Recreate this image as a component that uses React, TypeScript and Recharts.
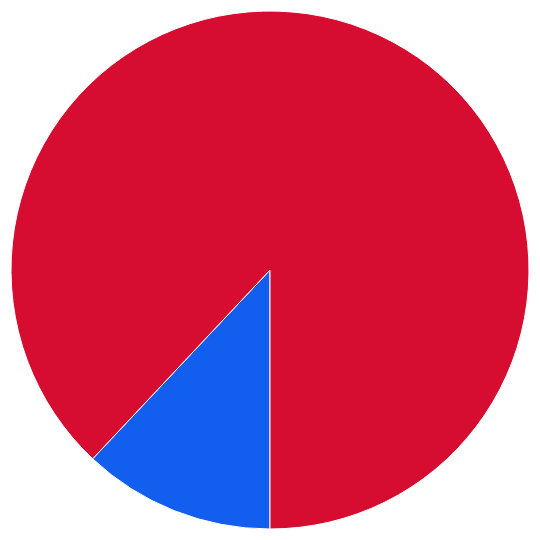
import React from "react";
import { PieChart, Pie, Cell } from "recharts";

const categories = ["Blue", "Red"];
const values = [12, 88];
const colors = ["#125EEE", "#D60C30"];

export default function App() {
  const data = categories.map((name, i) => ({ name, value: values[i] }));

  return (
    <div style={{ position: "absolute", left: 0, top: 0, width: 540, height: 540, background: "#fff" }}>
      <PieChart width={540} height={540} margin={{ top: 0, right: 0, bottom: 0, left: 0 }}>
        <Pie
          data={data}
          dataKey="value"
          nameKey="name"
          cx={270}
          cy={270}
          outerRadius={259}
          startAngle={270}
          endAngle={-90}
          stroke="#ffffff"
          strokeWidth={1}
          isAnimationActive={false}
        >
          {data.map((d, i) => (
            <Cell key={d.name} fill={colors[i]} />
          ))}
        </Pie>
      </PieChart>
    </div>
  );
}
